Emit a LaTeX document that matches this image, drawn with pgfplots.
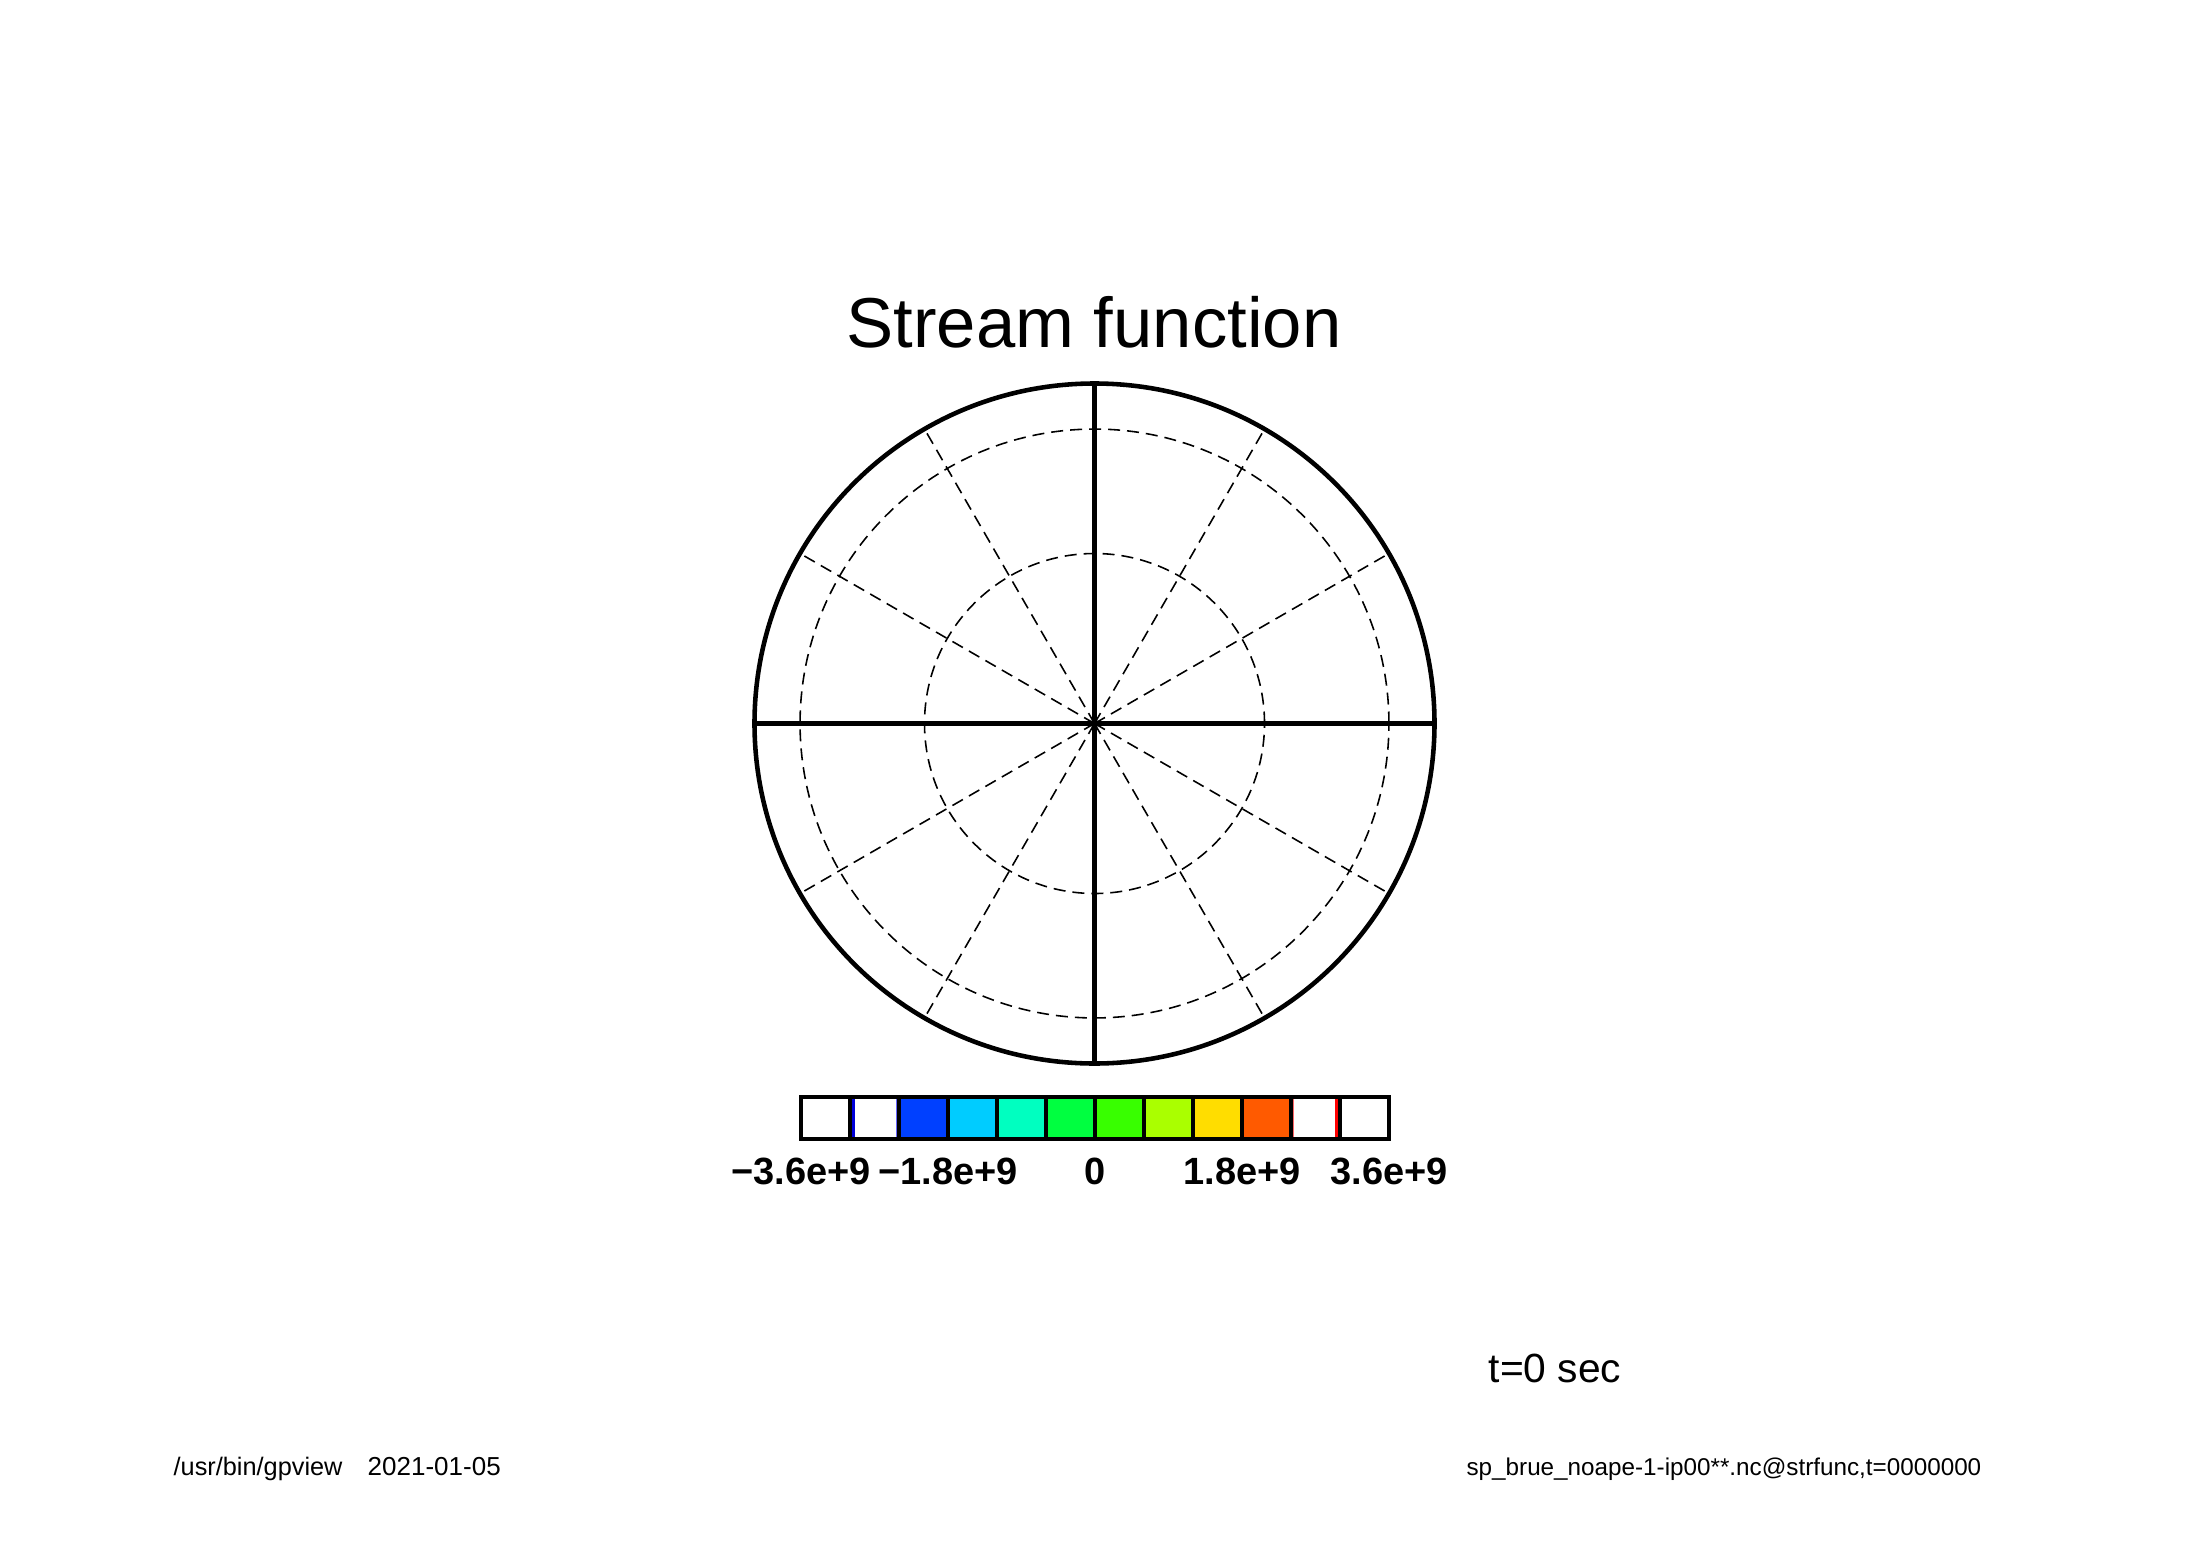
\documentclass[border=0pt]{standalone}
\usepackage{fontspec}
\setmainfont{Liberation Sans}
\usepackage{pgfplots}
\pgfplotsset{compat=1.18}
\usepgfplotslibrary{polar}

\definecolor{cbA}{RGB}{0,64,255}
\definecolor{cbB}{RGB}{0,204,255}
\definecolor{cbC}{RGB}{0,255,192}
\definecolor{cbD}{RGB}{0,255,64}
\definecolor{cbE}{RGB}{56,255,0}
\definecolor{cbF}{RGB}{170,255,0}
\definecolor{cbG}{RGB}{255,221,0}
\definecolor{cbH}{RGB}{255,90,0}

\begin{document}
\begin{tikzpicture}
\path[use as bounding box] (0,0) rectangle (21.88cm,15.46cm);

% title and notes
\node[anchor=base, inner sep=0pt, font=\fontsize{20.1}{24}\selectfont] at (10.94cm,11.98cm) {Stream function};
\node[anchor=base, inner sep=0pt, font=\fontsize{11.6}{14}\selectfont] at (15.55cm,1.64cm) {t=0 sec};
\node[anchor=base west, inner sep=0pt, font=\fontsize{7.2}{9}\selectfont] at (1.73cm,0.71cm) {/usr/bin/gpview};
\node[anchor=base west, inner sep=0pt, font=\fontsize{7.4}{9}\selectfont] at (3.67cm,0.71cm) {2021-01-05};
\node[anchor=base east, inner sep=0pt, font=\fontsize{6.9}{9}\selectfont] at (19.82cm,0.71cm) {sp\_brue\_noape-1-ip00**.nc@strfunc,t=0000000};

% map frame (orthographic, latitude circles at 30 and 60)
\begin{polaraxis}[
  at={(10.945cm,8.225cm)}, anchor=center,
  scale only axis, width=6.8cm, height=6.8cm,
  xmin=0, xmax=360, ymin=0, ymax=1,
  xtick={0,30,...,330}, ytick={0.5,0.866},
  xticklabels={}, yticklabels={},
  major tick length=0pt,
  grid=major,
  major grid style={black, line width=0.45pt, dash pattern=on 0.12cm off 0.07cm},
  x axis line style={line width=1.3pt},
  y axis line style={line width=1.15pt},
  clip=false,
]
\addplot[black, line width=1.15pt] coordinates {(0,1) (180,1)};
\addplot[black, line width=1.15pt] coordinates {(90,1) (270,1)};
\end{polaraxis}

% colour bar
\begin{axis}[
  at={(8.01cm,4.07cm)}, anchor=south west,
  scale only axis, width=5.88cm, height=0.42cm,
  xmin=-3.6, xmax=3.6, ymin=0, ymax=1,
  xtick={-3.6,-1.8,0,1.8,3.6},
  xticklabels={−3.6e+9,−1.8e+9,0,1.8e+9,3.6e+9},
  xticklabel style={font=\fontsize{10.8}{12}\selectfont\bfseries, yshift=-0.07cm},
  ytick=\empty, major tick length=0pt,
  axis line style={line width=1.15pt},
  axis on top, clip=false,
]
\addplot[fill=white, draw=black, line width=1.1pt] coordinates {(-3.6,0) (-3.0,0) (-3.0,1) (-3.6,1)} -- cycle;
\addplot[fill=white, draw=black, line width=1.1pt] coordinates {(-3.0,0) (-2.4,0) (-2.4,1) (-3.0,1)} -- cycle;
\addplot[fill=cbA, draw=black, line width=1.1pt] coordinates {(-2.4,0) (-1.8,0) (-1.8,1) (-2.4,1)} -- cycle;
\addplot[fill=cbB, draw=black, line width=1.1pt] coordinates {(-1.8,0) (-1.2,0) (-1.2,1) (-1.8,1)} -- cycle;
\addplot[fill=cbC, draw=black, line width=1.1pt] coordinates {(-1.2,0) (-0.6,0) (-0.6,1) (-1.2,1)} -- cycle;
\addplot[fill=cbD, draw=black, line width=1.1pt] coordinates {(-0.6,0) (0,0) (0,1) (-0.6,1)} -- cycle;
\addplot[fill=cbE, draw=black, line width=1.1pt] coordinates {(0,0) (0.6,0) (0.6,1) (0,1)} -- cycle;
\addplot[fill=cbF, draw=black, line width=1.1pt] coordinates {(0.6,0) (1.2,0) (1.2,1) (0.6,1)} -- cycle;
\addplot[fill=cbG, draw=black, line width=1.1pt] coordinates {(1.2,0) (1.8,0) (1.8,1) (1.2,1)} -- cycle;
\addplot[fill=cbH, draw=black, line width=1.1pt] coordinates {(1.8,0) (2.4,0) (2.4,1) (1.8,1)} -- cycle;
\addplot[fill=white, draw=black, line width=1.1pt] coordinates {(2.4,0) (3.0,0) (3.0,1) (2.4,1)} -- cycle;
\addplot[fill=white, draw=black, line width=1.1pt] coordinates {(3.0,0) (3.6,0) (3.6,1) (3.0,1)} -- cycle;
% thin coloured edges inside the outer white boxes
\addplot[draw=blue!85!black, line width=0.8pt] coordinates {(-2.955,0.04) (-2.955,0.96)};
\addplot[draw=blue!60, line width=0.3pt] coordinates {(-2.43,0.04) (-2.43,0.96)};
\addplot[draw=red, line width=0.8pt] coordinates {(2.955,0.04) (2.955,0.96)};
\addplot[draw=red!60, line width=0.3pt] coordinates {(2.43,0.04) (2.43,0.96)};
\end{axis}
\end{tikzpicture}
\end{document}
